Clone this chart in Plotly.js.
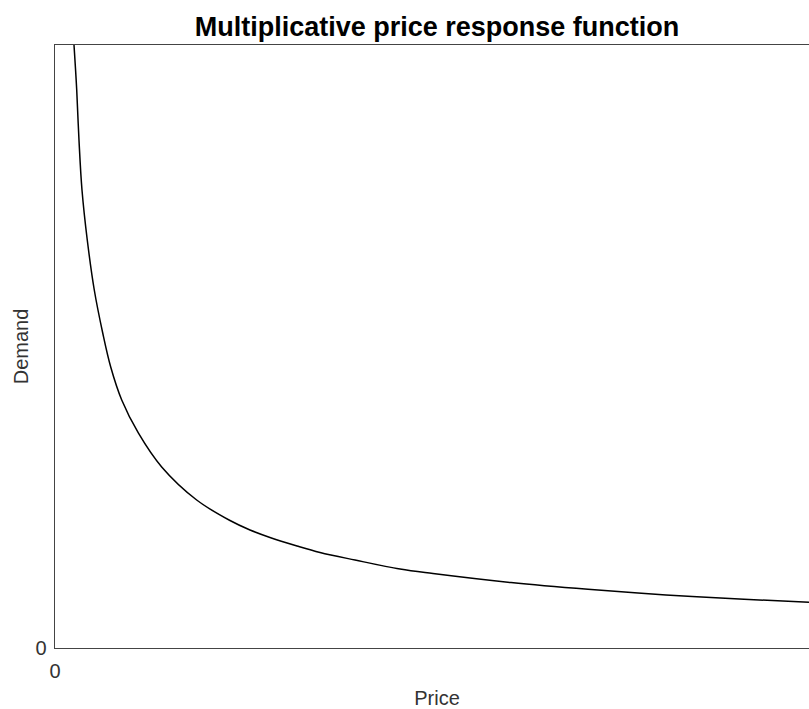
<!DOCTYPE html>
<html>
<head>
<meta charset="utf-8">
<script src="https://cdn.plot.ly/plotly-3.0.1.min.js"></script>
<style>
html, body { margin: 0; padding: 0; overflow: hidden; background: #fff; }
#chart { width: 819px; height: 709px; }
</style>
</head>
<body>
<div id="chart"></div>
<script>
// Price (x) and Demand (y) values (axes 0..100 scale)
var price = [2.52, 2.88, 3.18, 3.58, 4.28, 5.21, 6.33, 7.39, 8.85, 11.05, 14.15, 18.79, 23.21, 25.86, 28.51, 32.10, 35.15, 39.79, 45.76, 50.13, 60.48, 70.69, 81.03, 91.38, 100];
var demand = [100, 92.54, 84.25, 75.95, 67.66, 59.37, 52.24, 46.60, 41.13, 35.66, 30.02, 24.54, 21.14, 19.57, 18.33, 16.92, 15.84, 14.59, 13.10, 12.36, 10.86, 9.73, 8.79, 8.08, 7.58];
var xTickVals = [0];
var xTickText = ['0'];
var yTickVals = [0];
var yTickText = ['0'];

var trace = {
  x: price,
  y: demand,
  type: 'scatter',
  mode: 'lines',
  line: { color: '#000000', width: 1.5, shape: 'spline', smoothing: 1 },
  hoverinfo: 'skip'
};

var font = 'Liberation Sans, Arial, sans-serif';
var layout = {
  width: 819,
  height: 709,
  margin: { l: 55, r: 0, t: 45, b: 61 },
  paper_bgcolor: '#ffffff',
  plot_bgcolor: '#ffffff',
  showlegend: false,
  title: {
    text: '<b>Multiplicative price response function</b>',
    font: { family: font, size: 27, color: '#000000' },
    x: 0.5, xref: 'paper', xanchor: 'center',
    y: 1 - 27 / 709, yref: 'container', yanchor: 'middle'
  },
  xaxis: {
    range: [0, 100 * 764 / 754],
    showgrid: false, zeroline: false,
    showline: true, linecolor: '#444444', linewidth: 1.3, mirror: true,
    ticks: '', tickvals: xTickVals, ticktext: xTickText,
    tickfont: { family: font, size: 20, color: '#333333' },
    ticklabelstandoff: 5,
    title: { text: 'Price', font: { family: font, size: 20, color: '#333333' }, standoff: 27 }
  },
  yaxis: {
    range: [0, 100],
    showgrid: false, zeroline: false,
    showline: true, linecolor: '#444444', linewidth: 1.3,
    ticks: '', tickvals: yTickVals, ticktext: yTickText,
    tickfont: { family: font, size: 20, color: '#333333' },
    ticklabelstandoff: 3,
    title: { text: 'Demand', font: { family: font, size: 20, color: '#333333' }, standoff: 1 }
  }
};

Plotly.newPlot('chart', [trace], layout, { displayModeBar: false, staticPlot: true });
</script>
</body>
</html>
